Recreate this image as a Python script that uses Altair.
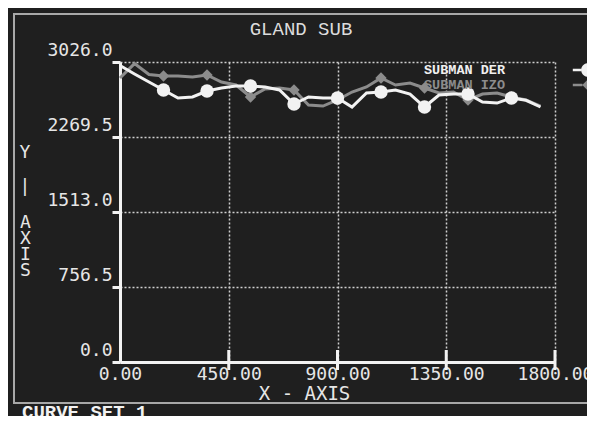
import altair as alt
import pandas as pd

TITLE = "GLAND SUB"
FOOTER = "CURVE SET 1"
X_TITLE = "X - AXIS"
Y_TITLE_TOP = "Y\n|"
Y_TITLE_REST = ["A", "X", "I", "S"]
SERIES = ["SUBMAN DER", "SUBMAN IZO"]
X_TICKS = [0, 450, 900, 1350, 1800]
Y_TICKS = [0.0, 756.5, 1513.0, 2269.5, 3026.0]

x_vals = [0, 60, 120, 180, 240, 300, 360, 420, 480, 540, 600, 660, 720, 780, 840,
          900, 960, 1020, 1080, 1140, 1200, 1260, 1320, 1380, 1440, 1500, 1560, 1620, 1680, 1740]
der_vals = [2990, 2905, 2824, 2744, 2663, 2673, 2733, 2764, 2784, 2784, 2774, 2744, 2602, 2673, 2663,
            2663, 2572, 2713, 2723, 2744, 2703, 2572, 2693, 2703, 2703, 2622, 2612, 2663, 2640, 2572]
izo_vals = [2865, 3010, 2900, 2885, 2885, 2875, 2895, 2824, 2794, 2673, 2754, 2764, 2744, 2592, 2582,
            2643, 2723, 2774, 2865, 2794, 2814, 2764, 2713, 2723, 2643, 2703, 2713, 2673, 2643, 2582]
marker_x = [180, 360, 540, 720, 900, 1080, 1260, 1440, 1620]

WHITE = "#f2f2f2"
GRAY = "#8c8c8c"
BG = "#1f1f1f"
GRID = "#cfcfcf"
TXT = "#e6e6e6"

der = pd.DataFrame({"x": x_vals, "y": der_vals, "series": SERIES[0]})
izo = pd.DataFrame({"x": x_vals, "y": izo_vals, "series": SERIES[1]})
der_m = der[der["x"].isin(marker_x)]
izo_m = izo[izo["x"].isin(marker_x)]
markers = pd.concat([izo_m, der_m])
ticks_df = pd.DataFrame({"x": X_TICKS[1:]})

PATH_C = "M-0.9,-0.17H0.15V0.17H-0.9Z M1.85,0A0.85,0.85 0 1,1 0.15,0A0.85,0.85 0 1,1 1.85,0Z"
PATH_D = "M-0.9,-0.17H0.3V0.17H-0.9Z M1,-0.72L1.72,0L1,0.72L0.28,0Z"

xscale = alt.Scale(domain=[0, 1800], nice=False, zero=False)
yscale = alt.Scale(domain=[0, 3026], nice=False, zero=False)

x_axis = alt.Axis(values=X_TICKS, format=".2f", title=X_TITLE, grid=True, gridColor=GRID,
                  gridDash=[2, 2], gridWidth=1.5, ticks=False, domainColor=WHITE, domainWidth=3,
                  labelFont="DejaVu Sans Mono", labelFontSize=18, labelColor=TXT,
                  labelPadding=3, labelFlush=False, titleFont="DejaVu Sans Mono", titleFontSize=19,
                  titleFontWeight="normal", titleColor=TXT, titleX=184, titleY=31,
                  titleBaseline="middle", titleAlign="center")
y_axis = alt.Axis(values=Y_TICKS, format=".1f", title=Y_TITLE_REST, titleAngle=0, titleX=-95, titleY=151,
                  titleAlign="center", titleBaseline="top", titleLineHeight=16,
                  titleFont="DejaVu Sans Mono", titleFontSize=18, titleFontWeight="normal",
                  titleColor=TXT, grid=True, gridColor=GRID, gridDash=[2, 2], gridWidth=1.5,
                  tickSize=8, tickWidth=3, tickColor=WHITE, domainColor=WHITE, domainWidth=3,
                  labelFont="DejaVu Sans Mono", labelFontSize=18, labelColor=TXT,
                  labelBaseline="alphabetic", labelOffset=-7, labelPadding=0, labelFlush=False)

X = alt.X("x:Q", scale=xscale, axis=x_axis)
Y = alt.Y("y:Q", scale=yscale, axis=y_axis)

frame = alt.Chart(pd.DataFrame({"label": [FOOTER]})).mark_rect(
    fillOpacity=0, stroke="#a8a8a8", strokeWidth=2).encode(
    x=alt.value(-106), x2=alt.value(480), y=alt.value(-48), y2=alt.value(341))

footer = alt.Chart(pd.DataFrame({"label": [FOOTER]})).mark_text(
    align="left", baseline="alphabetic", font="Liberation Mono", fontWeight="bold",
    fontSize=19, color=WHITE).encode(x=alt.value(-98), y=alt.value(356), text="label:N")

title = alt.Chart(pd.DataFrame({"label": [TITLE]})).mark_text(
    align="center", baseline="alphabetic", font="Liberation Mono", fontWeight="normal",
    fontSize=19, color="#dcdcdc").encode(x=alt.value(181), y=alt.value(-27), text="label:N")

ytop = alt.Chart(pd.DataFrame({"label": [Y_TITLE_TOP]})).mark_text(
    align="center", baseline="top", font="DejaVu Sans Mono", fontSize=18, color=TXT,
    lineBreak="\n", lineHeight=34).encode(x=alt.value(-95), y=alt.value(82), text="label:N")

gray_line = alt.Chart(izo).mark_line(color=GRAY, strokeWidth=3).encode(x=X, y=Y)
white_line = alt.Chart(der).mark_line(color=WHITE, strokeWidth=3).encode(x=X, y=Y)
gray_pts = alt.Chart(izo_m).mark_point(shape="diamond", filled=True, size=130, color=GRAY, opacity=1).encode(x=X, y=Y)
white_pts = alt.Chart(der_m).mark_point(shape="circle", filled=True, size=180, color=WHITE, opacity=1).encode(x=X, y=Y)

leg = dict(orient="none", legendX=452, legendY=0, title=None, labelAlign="right",
           labelOffset={"expr": "-83"},
           labelFont="Liberation Mono", labelFontWeight="bold", labelFontSize=13.5,
           labelColor={"expr": "datum.label == 'SUBMAN IZO' ? '#8c8c8c' : '#f0f0f0'"},
           symbolSize=256, symbolOpacity=1, rowPadding=0, padding=0, symbolStrokeWidth=0)

legend_layer = alt.Chart(markers).mark_point(filled=True, opacity=0).encode(
    x=X, y=Y,
    color=alt.Color("series:N", scale=alt.Scale(domain=SERIES, range=[WHITE, GRAY]), legend=alt.Legend(**leg)),
    shape=alt.Shape("series:N", scale=alt.Scale(domain=SERIES, range=[PATH_C, PATH_D]), legend=alt.Legend(**leg)))

xt = alt.Chart(ticks_df).mark_rule(
    color=WHITE, strokeWidth=3, yOffset=-12, y2Offset=8).encode(
    x=X, y=alt.datum(0, scale=yscale, axis=y_axis), y2=alt.datum(0))

chart = alt.layer(gray_line, white_line, gray_pts, white_pts, legend_layer, xt, frame, footer, title, ytop).properties(
    width=435, height=300, autosize="none",
    padding={"left": 112, "top": 54, "right": 32, "bottom": 54},
    background=BG,
).configure_view(strokeWidth=0)

chart.save("out.html", embed_options={"renderer": "svg", "actions": False})
